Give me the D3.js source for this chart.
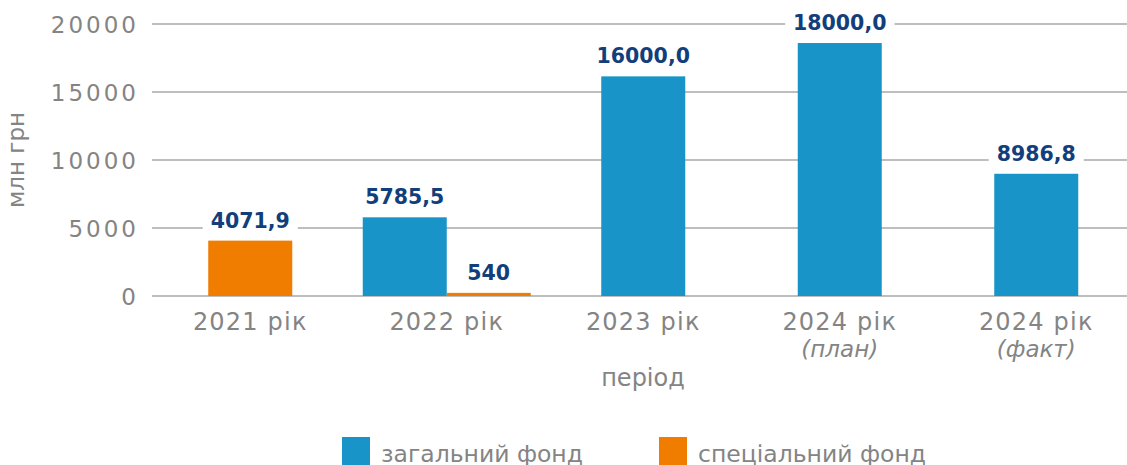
<!DOCTYPE html>
<html>
<head>
<meta charset="utf-8">
<script src="https://cdn.jsdelivr.net/npm/d3@7"></script>
<style>
  html, body { margin: 0; padding: 0; background: #fff; }
  svg { display: block; font-family: "DejaVu Sans", sans-serif; }
</style>
</head>
<body>
<svg id="chart" width="1127" height="465"></svg>
<script>
// ---- data ----
const categories = ["2021 рік", "2022 рік", "2023 рік", "2024 рік", "2024 рік "];
const categorySubLabels = ["", "", "", "(план)", "(факт)"];
const seriesNames = ["загальний фонд", "спеціальний фонд"];
const generalFund = [null, 5785.5, 16150, 18600, 8986.8];
const specialFund = [4071.9, 230, null, null, null];
const generalLabels = ["", "5785,5", "16000,0", "18000,0", "8986,8"];
const specialLabels = ["4071,9", "540", "", "", ""];
const yTicks = [0, 5000, 10000, 15000, 20000];
const yTitle = "млн грн";
const xTitle = "період";

// ---- styles ----
const colors = ["#1894c8", "#f07c00"];
const gridColor = "#a9a9a9";
const textGray = "#848484";
const labelBlue = "#123f7c";

const svg = d3.select("#chart");
const x = d3.scaleBand().domain(d3.range(categories.length)).range([152, 1134.5]).padding(0);
const y = d3.scaleLinear().domain([0, 20000]).range([296, 24]);
const barW = x.bandwidth() * 0.4275;

// gridlines
svg.append("g").selectAll("line").data(yTicks).join("line")
  .attr("x1", 152).attr("x2", 1127)
  .attr("y1", d => y(d)).attr("y2", d => y(d))
  .attr("stroke", gridColor).attr("stroke-width", 1.5);

// y tick labels
svg.append("g").selectAll("text").data(yTicks).join("text")
  .attr("x", 139).attr("y", d => y(d) + 8.5)
  .attr("text-anchor", "end")
  .attr("fill", textGray)
  .style("font-size", "23px").style("letter-spacing", "3px")
  .text(d => d);

// y title
svg.append("text")
  .attr("transform", "translate(24,160) rotate(-90)")
  .attr("text-anchor", "middle")
  .attr("fill", textGray)
  .style("font-size", "23px")
  .text(yTitle);

// bars
const series = [generalFund, specialFund];
const seriesLabels = [generalLabels, specialLabels];
const barsG = svg.append("g");
const labelsG = svg.append("g");
categories.forEach((c, i) => {
  const present = [0, 1].filter(s => series[s][i] != null);
  const inner = d3.scaleBand().domain(present)
    .range([x(i) + x.bandwidth() / 2 - barW * present.length / 2,
            x(i) + x.bandwidth() / 2 + barW * present.length / 2]);
  present.forEach(s => {
    const v = series[s][i];
    barsG.append("rect")
      .attr("x", inner(s)).attr("width", inner.bandwidth())
      .attr("y", y(v)).attr("height", y(0) - y(v))
      .attr("fill", colors[s]);
    const lbl = seriesLabels[s][i];
    if (lbl) {
      const g = labelsG.append("g");
      const t = g.append("text")
        .attr("x", inner(s) + inner.bandwidth() / 2)
        .attr("y", y(v) - 13)
        .attr("text-anchor", "middle")
        .attr("fill", labelBlue)
        .style("font-size", "20.5px").style("font-weight", "bold")
        .text(lbl);
      const bb = t.node().getBBox();
      g.insert("rect", "text")
        .attr("x", bb.x - 8).attr("y", bb.y)
        .attr("width", bb.width + 16).attr("height", bb.height)
        .attr("fill", "#fff");
    }
  });
});

// x tick labels
const xt = svg.append("g");
categories.forEach((c, i) => {
  const cx = x(i) + x.bandwidth() / 2;
  xt.append("text")
    .attr("x", cx).attr("y", 330)
    .attr("text-anchor", "middle")
    .attr("fill", textGray)
    .style("font-size", "24px").style("letter-spacing", "1.2px")
    .text(c.trim());
  if (categorySubLabels[i]) {
    xt.append("text")
      .attr("x", cx).attr("y", 357)
      .attr("text-anchor", "middle")
      .attr("fill", textGray)
      .style("font-size", "23px").style("font-style", "italic")
      .text(categorySubLabels[i]);
  }
});

// x title
svg.append("text")
  .attr("x", 643).attr("y", 386)
  .attr("text-anchor", "middle")
  .attr("fill", textGray)
  .style("font-size", "24px")
  .text(xTitle);

// legend
const legendX = [342, 659];
const lg = svg.append("g");
seriesNames.forEach((n, s) => {
  lg.append("rect")
    .attr("x", legendX[s]).attr("y", 437)
    .attr("width", 28).attr("height", 28)
    .attr("fill", colors[s]);
  lg.append("text")
    .attr("x", legendX[s] + 39).attr("y", 462)
    .attr("fill", textGray)
    .style("font-size", "23.5px")
    .text(n);
});
</script>
</body>
</html>
